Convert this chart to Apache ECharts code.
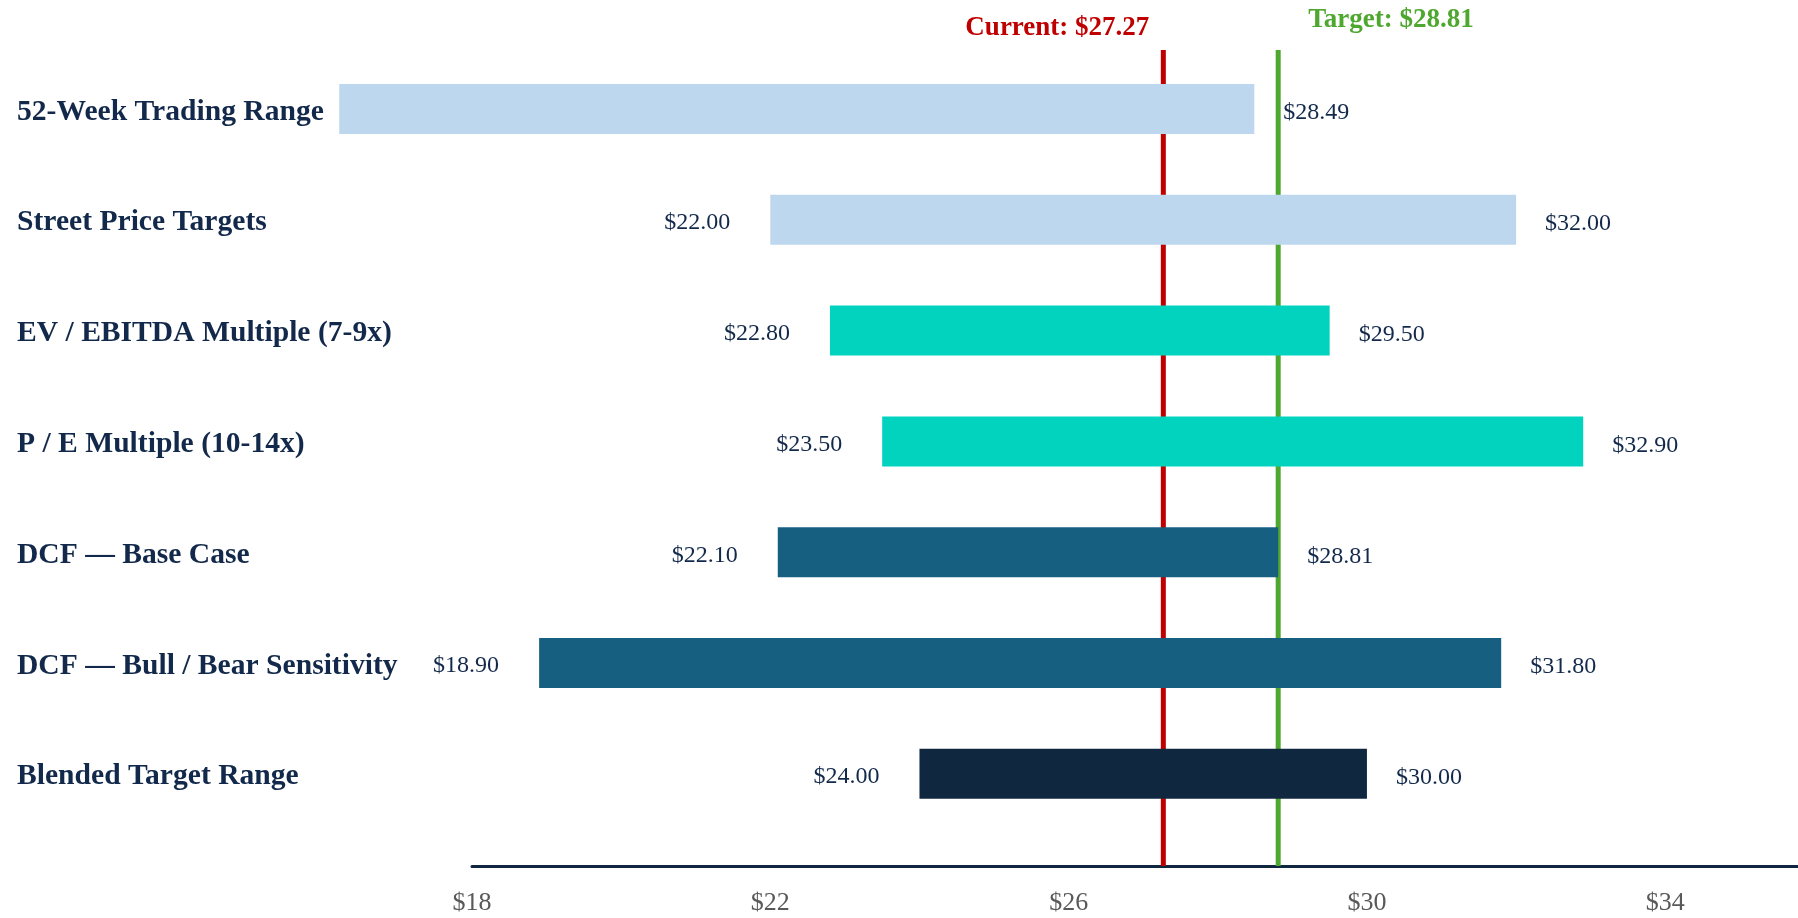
<!DOCTYPE html>
<html>
<head>
<meta charset="utf-8">
<title>Valuation Football Field</title>
<script src="https://cdn.jsdelivr.net/npm/echarts@6/dist/echarts.min.js"></script>
<style>
  html, body { margin: 0; padding: 0; background: #ffffff; }
  #chart { width: 1798px; height: 918px; }
</style>
</head>
<body>
<div id="chart"></div>
<script>
// Valuation methods, top to bottom
const categories = [
  '52-Week Trading Range',
  'Street Price Targets',
  'EV / EBITDA Multiple (7-9x)',
  'P / E Multiple (10-14x)',
  'DCF — Base Case',
  'DCF — Bull / Bear Sensitivity',
  'Blended Target Range'
];
// Low and high end of each implied share-price range ($)
const lows  = [16.22, 22.00, 22.80, 23.50, 22.10, 18.90, 24.00];
const highs = [28.49, 32.00, 29.50, 32.90, 28.81, 31.80, 30.00];
// Method family of each row (drives the bar colour)
const methodGroups = ['market', 'market', 'multiple', 'multiple', 'dcf', 'dcf', 'blended'];
// Reference prices drawn as vertical lines
const referenceNames  = ['Current', 'Target'];
const referencePrices = [27.27, 28.81];

// ---- styling ----
const GROUP_COLORS = {
  market: '#BDD7EE',
  multiple: '#02D3BF',
  dcf: '#175F80',
  blended: '#10283F'
};
const REF_COLORS = ['#C00000', '#4EA72E'];
const SERIF = "'Liberation Serif', 'Times New Roman', serif";
const NAVY = '#13294B';
const AXIS_MIN = 18;
const BAR_HEIGHT = 50;

const fmt = v => '$' + v.toFixed(2);

const chart = echarts.init(document.getElementById('chart'), null, { renderer: 'canvas' });

const option = {
  backgroundColor: '#ffffff',
  animation: false,
  grid: { left: 472, right: 0, top: 50, bottom: 52, containLabel: false },
  xAxis: {
    type: 'value',
    min: AXIS_MIN,
    max: 35.78,
    interval: 2,
    splitLine: { show: false },
    axisTick: { show: false },
    axisLine: { show: true, onZero: false, lineStyle: { color: '#10283F', width: 3 } },
    axisLabel: {
      showMaxLabel: false,
      margin: 24,
      color: '#595959',
      fontSize: 26,
      fontFamily: SERIF,
      formatter: v => ((v - AXIS_MIN) % 4 === 0 ? '$' + v : '')
    }
  },
  yAxis: {
    type: 'value',
    inverse: true,
    min: -0.5325,
    max: 6.832,
    show: false
  },
  series: [
    {
      // Current / target price reference lines with their captions
      type: 'custom',
      z: 1,
      data: referencePrices.map((p, i) => [p, i]),
      encode: { x: 0 },
      renderItem: function (params, api) {
        const price = api.value(0);
        const idx = api.value(1);
        const x = api.coord([price, 0])[0];
        const cs = params.coordSys;
        const top = cs.y;
        const bottom = cs.y + cs.height;
        const color = REF_COLORS[idx];
        const leftSide = idx === 0;
        return {
          type: 'group',
          children: [
            {
              type: 'line',
              shape: { x1: x, y1: top, x2: x, y2: bottom },
              style: { stroke: color, lineWidth: 5 }
            },
            {
              type: 'text',
              style: {
                x: leftSide ? x - 14 : x + 30,
                y: leftSide ? top - 22 : top - 30,
                text: referenceNames[idx] + ': ' + fmt(price),
                align: leftSide ? 'right' : 'left',
                verticalAlign: 'middle',
                fill: color,
                fontFamily: SERIF,
                fontWeight: 'bold',
                fontSize: 27
              }
            }
          ]
        };
      }
    },
    {
      // Range bars, value labels and row names
      type: 'custom',
      z: 2,
      clip: false,
      data: categories.map((c, i) => [i, lows[i], highs[i]]),
      encode: { x: [1, 2], y: 0 },
      renderItem: function (params, api) {
        const i = api.value(0);
        const lo = api.value(1);
        const hi = api.value(2);
        const a = api.coord([lo, i]);
        const b = api.coord([hi, i]);
        const cy = a[1];
        const children = [
          {
            type: 'rect',
            shape: { x: a[0], y: cy - BAR_HEIGHT / 2, width: b[0] - a[0], height: BAR_HEIGHT },
            style: { fill: GROUP_COLORS[methodGroups[i]] }
          },
          {
            type: 'text',
            style: {
              x: b[0] + 29, y: cy + 4,
              text: fmt(hi),
              align: 'left', verticalAlign: 'middle',
              fill: NAVY, fontFamily: SERIF, fontSize: 24
            }
          },
          {
            type: 'text',
            style: {
              x: 17, y: cy + 3,
              text: categories[i],
              align: 'left', verticalAlign: 'middle',
              fill: NAVY, fontFamily: SERIF, fontWeight: 'bold', fontSize: 29.6
            }
          }
        ];
        // the low end is only captioned when it sits inside the axis range
        if (lo >= AXIS_MIN) {
          children.push({
            type: 'text',
            style: {
              x: a[0] - 40, y: cy + 3,
              text: fmt(lo),
              align: 'right', verticalAlign: 'middle',
              fill: NAVY, fontFamily: SERIF, fontSize: 24
            }
          });
        }
        return { type: 'group', children: children };
      }
    }
  ]
};

chart.setOption(option);
</script>
</body>
</html>
